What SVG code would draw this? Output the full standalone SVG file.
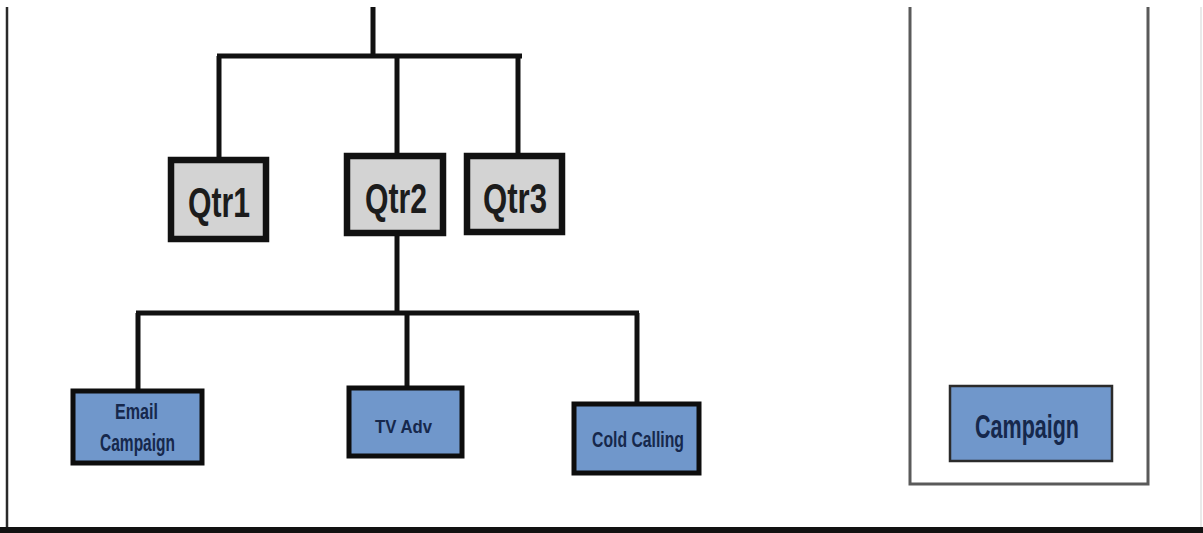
<svg xmlns="http://www.w3.org/2000/svg" width="1203" height="533" viewBox="0 0 1203 533">
  <style>
    .qtr rect { fill: #d3d3d3; stroke: #111; stroke-width: 6.5; }
    .qtr text { font-family: "Liberation Sans Narrow", "Liberation Sans", sans-serif; font-weight: bold; font-size: 42px; fill: #1c1c1c; text-anchor: middle; }
    .task rect { fill: #7097cb; stroke: #0d0d0d; stroke-width: 5; }
    .task text { font-family: "Liberation Sans Narrow", "Liberation Sans", sans-serif; font-weight: bold; fill: #16284c; text-anchor: middle; }
    .legend rect { fill: #7097cb; stroke: #2b2b2b; stroke-width: 2.5; }
    #connectors path { fill: none; stroke: #111; stroke-width: 5; }
  </style>

  <rect x="0" y="0" width="1203" height="533" fill="#ffffff"/>

  <!-- page frame -->
  <g id="frame">
    <line x1="7" y1="7" x2="7" y2="528" stroke="#2a2a2a" stroke-width="2.5"/>
    <line x1="1201" y1="7" x2="1201" y2="528" stroke="#e2e2e2" stroke-width="1.5"/>
    <line x1="0" y1="530" x2="1203" y2="530" stroke="#111" stroke-width="6"/>
  </g>

  <!-- side panel -->
  <g id="side-panel">
    <path d="M910 7 V484 H1148 V7" fill="none" stroke="#5a5a5a" stroke-width="3"/>
  </g>

  <g id="connectors">
    <path d="M373 7 V56"/>
    <path d="M217 56 H522"/>
    <path d="M219 56 V157"/>
    <path d="M397 56 V154"/>
    <path d="M518 56 V154"/>
    <path d="M397 233 V313"/>
    <path d="M136 313 H639"/>
    <path d="M138 313 V390"/>
    <path d="M407 313 V387"/>
    <path d="M637 313 V403"/>
  </g>

  <g id="qtr1" class="qtr">
    <rect x="171" y="160" width="95" height="79"/>
    <text x="219" y="217" textLength="62" lengthAdjust="spacingAndGlyphs">Qtr1</text>
  </g>
  <g id="qtr2" class="qtr">
    <rect x="347" y="156" width="96" height="77"/>
    <text x="396" y="213" textLength="62" lengthAdjust="spacingAndGlyphs">Qtr2</text>
  </g>
  <g id="qtr3" class="qtr">
    <rect x="467" y="156" width="95" height="76"/>
    <text x="515" y="213" textLength="64" lengthAdjust="spacingAndGlyphs">Qtr3</text>
  </g>

  <g id="email-campaign" class="task">
    <rect x="73" y="391" width="129" height="72"/>
    <text x="136.5" y="419" font-size="22" textLength="43" lengthAdjust="spacingAndGlyphs">Email</text>
    <text x="137.5" y="451" font-size="23" textLength="75" lengthAdjust="spacingAndGlyphs">Campaign</text>
  </g>
  <g id="tv-adv" class="task">
    <rect x="349" y="388" width="113" height="68"/>
    <text x="403.5" y="433" font-size="18" textLength="57" lengthAdjust="spacingAndGlyphs">TV Adv</text>
  </g>
  <g id="cold-calling" class="task">
    <rect x="574" y="404" width="125" height="69"/>
    <text x="638" y="447" font-size="22" textLength="92" lengthAdjust="spacingAndGlyphs">Cold Calling</text>
  </g>

  <g id="campaign" class="legend">
    <rect x="950" y="386" width="162" height="75"/>
    <text x="1027" y="438" font-family="Liberation Sans Narrow, Liberation Sans, sans-serif" font-weight="bold" font-size="34" fill="#16284c" text-anchor="middle" textLength="104" lengthAdjust="spacingAndGlyphs">Campaign</text>
  </g>
</svg>
